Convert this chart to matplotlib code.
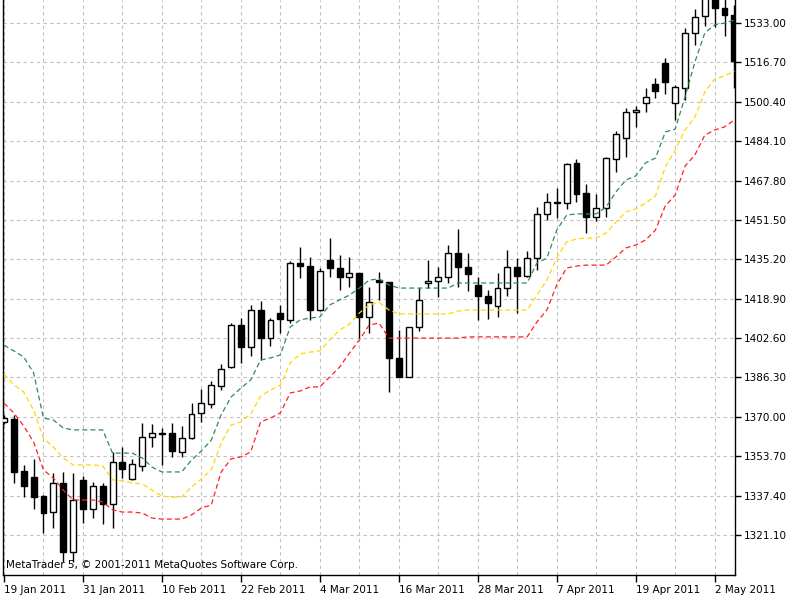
"""
Candles with three trailing bands, MetaTrader style
"""
import numpy as np
import matplotlib
matplotlib.use('Agg')
import matplotlib.pyplot as plt
from matplotlib.ticker import FixedLocator, FormatStrFormatter

# Daily bars, 19 Jan 2011 .. 4 May 2011
OPEN = [1367.9, 1369.1, 1347.6, 1345.1, 1337.2, 1330.6, 1342.6, 1314.1, 1343.9, 1331.9,
        1341.4, 1333.9, 1351.3, 1344.3, 1349.7, 1361.7, 1363.1, 1363.3, 1355.5, 1361.2,
        1371.6, 1375.3, 1382.8, 1390.6, 1408.0, 1398.9, 1414.2, 1402.6, 1413.0, 1410.1,
        1433.7, 1432.4, 1414.2, 1434.9, 1431.6, 1427.9, 1429.5, 1411.3, 1426.6, 1425.8,
        1394.4, 1386.5, 1407.2, 1425.4, 1426.2, 1427.9, 1437.8, 1432.0, 1424.6, 1420.0,
        1415.9, 1423.3, 1432.0, 1428.3, 1435.7, 1454.0, 1458.7, 1458.5, 1475.1, 1462.6,
        1452.7, 1456.4, 1476.7, 1485.4, 1496.2, 1499.9, 1507.8, 1516.5, 1499.9, 1506.1,
        1528.9, 1535.9, 1544.6, 1539.2, 1536.3]
HIGH = [1370.8, 1370.8, 1350.1, 1352.6, 1337.7, 1346.8, 1347.2, 1346.8, 1345.5, 1343.0,
        1342.6, 1355.5, 1357.5, 1352.6, 1367.5, 1367.0, 1365.4, 1367.5, 1366.2, 1375.7,
        1381.5, 1384.8, 1391.9, 1408.8, 1410.9, 1416.3, 1417.9, 1410.9, 1416.3, 1434.5,
        1440.3, 1436.2, 1431.6, 1444.0, 1437.0, 1436.2, 1429.5, 1423.7, 1430.0, 1425.9,
        1405.9, 1407.2, 1423.3, 1434.9, 1432.0, 1441.1, 1447.7, 1437.8, 1427.9, 1422.5,
        1429.5, 1439.1, 1435.7, 1438.6, 1456.9, 1462.6, 1464.7, 1475.1, 1476.7, 1466.4,
        1462.2, 1477.5, 1488.3, 1497.8, 1498.7, 1506.1, 1510.2, 1518.5, 1507.3, 1530.9,
        1538.8, 1546.7, 1546.7, 1543.8, 1540.5]
LOW = [1367.0, 1342.6, 1336.8, 1331.9, 1321.9, 1324.0, 1309.9, 1309.9, 1326.1, 1328.1,
       1325.7, 1324.0, 1344.7, 1343.9, 1347.6, 1357.5, 1350.1, 1353.4, 1353.4, 1360.8,
       1367.9, 1373.7, 1381.1, 1390.2, 1392.3, 1395.2, 1393.5, 1399.3, 1404.7, 1408.8,
       1427.5, 1410.1, 1413.8, 1427.9, 1422.5, 1423.7, 1402.6, 1404.7, 1418.4, 1380.3,
       1386.5, 1386.5, 1405.5, 1423.3, 1419.6, 1425.4, 1423.7, 1422.1, 1410.1, 1410.5,
       1411.3, 1420.0, 1413.0, 1427.9, 1430.8, 1451.5, 1452.3, 1456.0, 1458.9, 1446.1,
       1451.1, 1452.7, 1471.3, 1477.5, 1490.0, 1496.2, 1502.0, 1503.6, 1492.9, 1501.1,
       1523.9, 1531.8, 1531.4, 1527.6, 1506.1]
CLOSE = [1369.5, 1347.2, 1341.4, 1336.8, 1330.2, 1342.6, 1314.1, 1335.6, 1331.9, 1341.4,
         1333.9, 1351.3, 1348.4, 1350.5, 1361.7, 1363.3, 1363.3, 1355.9, 1361.2, 1371.2,
         1375.7, 1383.2, 1389.8, 1408.0, 1398.9, 1414.2, 1402.6, 1410.1, 1410.5, 1433.7,
         1432.4, 1414.2, 1430.4, 1431.6, 1427.9, 1429.5, 1411.3, 1417.5, 1425.8, 1394.4,
         1386.5, 1407.2, 1418.4, 1426.2, 1427.9, 1437.8, 1432.0, 1429.1, 1420.0, 1417.1,
         1423.3, 1432.0, 1428.3, 1435.7, 1454.0, 1458.9, 1458.9, 1474.7, 1462.2, 1452.7,
         1456.4, 1477.1, 1487.1, 1496.2, 1497.0, 1502.4, 1504.9, 1508.6, 1506.5, 1528.9,
         1535.5, 1545.0, 1539.2, 1536.3, 1517.3]

# indicator bands
BAND_GREEN = [1399.7, 1397.3, 1394.8, 1388.2, 1369.5, 1368.7, 1365.4, 1364.6, 1364.6, 1364.6,
              1364.6, 1355.0, 1355.0, 1355.0, 1353.0, 1349.2, 1347.2, 1347.2, 1347.2, 1352.1,
              1355.9, 1360.4, 1370.8, 1378.2, 1381.9, 1385.3, 1393.5, 1394.4, 1395.6, 1407.2,
              1410.1, 1410.9, 1411.3, 1416.3, 1418.4, 1420.4, 1423.3, 1426.6, 1427.1, 1424.6,
              1423.3, 1423.3, 1423.3, 1423.3, 1423.3, 1423.3, 1425.4, 1425.4, 1425.4, 1425.4,
              1425.4, 1425.4, 1425.4, 1425.4, 1433.7, 1435.7, 1447.3, 1453.5, 1454.0, 1454.0,
              1454.0, 1456.8, 1463.1, 1468.0, 1469.7, 1475.1, 1477.1, 1487.9, 1489.1, 1502.4,
              1516.9, 1528.9, 1532.2, 1533.0, 1534.2]
BAND_YELLOW = [1387.7, 1383.2, 1380.3, 1372.8, 1361.2, 1357.5, 1353.0, 1350.1, 1350.1, 1350.1,
               1349.7, 1343.9, 1343.5, 1342.6, 1342.2, 1339.7, 1337.2, 1336.8, 1336.8, 1341.0,
               1344.3, 1348.0, 1359.2, 1366.6, 1367.9, 1371.2, 1378.6, 1381.1, 1383.2, 1392.3,
               1396.0, 1396.8, 1397.3, 1401.8, 1405.9, 1408.4, 1413.0, 1416.3, 1417.5, 1414.2,
               1412.6, 1412.6, 1412.6, 1412.6, 1412.6, 1412.6, 1413.8, 1414.2, 1414.2, 1414.2,
               1414.2, 1414.2, 1414.2, 1414.2, 1420.4, 1426.6, 1435.7, 1442.4, 1443.6, 1444.0,
               1444.0, 1446.1, 1450.6, 1454.8, 1456.0, 1458.5, 1461.4, 1473.4, 1480.4, 1488.7,
               1494.1, 1504.4, 1509.8, 1511.1, 1513.1]
BAND_RED = [1375.7, 1371.6, 1366.2, 1359.6, 1348.0, 1344.7, 1339.7, 1335.6, 1335.6, 1335.6,
            1334.8, 1331.5, 1330.6, 1330.6, 1330.2, 1328.1, 1327.7, 1327.7, 1327.7, 1329.4,
            1332.3, 1333.5, 1347.2, 1352.6, 1353.4, 1355.5, 1367.9, 1369.5, 1371.6, 1379.9,
            1380.7, 1382.4, 1382.4, 1386.5, 1390.6, 1396.4, 1401.8, 1408.0, 1408.8, 1402.6,
            1402.6, 1402.6, 1402.6, 1402.6, 1402.6, 1402.6, 1402.6, 1403.1, 1403.1, 1403.1,
            1403.1, 1403.1, 1403.1, 1403.1, 1409.3, 1414.2, 1424.6, 1431.6, 1432.4, 1432.8,
            1432.8, 1432.8, 1436.2, 1439.9, 1441.1, 1443.2, 1447.3, 1457.3, 1461.8, 1473.8,
            1478.4, 1486.6, 1488.7, 1490.0, 1492.9]

PRICE_TICKS = [1321.10, 1337.40, 1353.70, 1370.00, 1386.30, 1402.60, 1418.90,
               1435.20, 1451.50, 1467.80, 1484.10, 1500.40, 1516.70, 1533.00]
DATE_LABELS = ['19 Jan 2011', '31 Jan 2011', '10 Feb 2011', '22 Feb 2011', '4 Mar 2011',
               '16 Mar 2011', '28 Mar 2011', '7 Apr 2011', '19 Apr 2011', '2 May 2011']
LABEL_EVERY = 8   # bars between date labels
GRID_EVERY = 4    # bars between vertical grid lines

o = np.array(OPEN)
h = np.array(HIGH)
l = np.array(LOW)
c = np.array(CLOSE)
idx = np.arange(len(o))

plt.rcParams['font.family'] = 'DejaVu Sans'
fig = plt.figure(figsize=(8, 6), dpi=100)
ax = fig.add_axes([3 / 800, 25 / 600, 732 / 800, 575 / 600])

# grid first so everything sits on top of it
grid_kw = dict(color='#c0c0c0', linestyle=(0, (3, 3)), linewidth=0.8, zorder=0)
for x in np.arange(0, 75, GRID_EVERY):
    ax.axvline(x, **grid_kw)
for y in PRICE_TICKS:
    ax.axhline(y, **grid_kw)

# candles
ax.vlines(idx, l, h, color='black', linewidth=1.0, zorder=2)
up = c >= o
body_lo = np.minimum(o, c)
body_h = np.maximum(np.abs(c - o), 0.25)
ax.bar(idx[up], body_h[up], bottom=body_lo[up], width=0.6,
       facecolor='white', edgecolor='black', linewidth=1.0, zorder=3)
ax.bar(idx[~up], body_h[~up], bottom=body_lo[~up], width=0.6,
       facecolor='black', edgecolor='black', linewidth=1.0, zorder=3)

# bands
line_kw = dict(linewidth=0.9, dashes=(4, 2.5), zorder=4)
ax.plot(idx, BAND_GREEN, color='#2e8b57', **line_kw)
ax.plot(idx, BAND_YELLOW, color='#ffd700', **line_kw)
ax.plot(idx, BAND_RED, color='#ff2020', **line_kw)

ax.set_xlim(-0.1, 74.06)
ax.set_ylim(1304.55, 1542.52)

# axes look
ax.spines['top'].set_visible(False)
for s in ['left', 'right', 'bottom']:
    ax.spines[s].set_linewidth(1.0)
ax.yaxis.tick_right()
ax.set_yticks(PRICE_TICKS)
ax.yaxis.set_major_formatter(FormatStrFormatter('%.2f'))
ax.tick_params(axis='y', direction='out', length=4, width=1, pad=2, labelsize=7.5)

ax.xaxis.set_major_locator(FixedLocator(np.arange(len(DATE_LABELS)) * LABEL_EVERY))
ax.set_xticklabels(DATE_LABELS, ha='left')
ax.tick_params(axis='x', direction='out', length=5, width=1, pad=2, labelsize=7.5)

ax.text(0.004, 0.012, 'MetaTrader 5, \u00a9 2001-2011 MetaQuotes Software Corp.',
        transform=ax.transAxes, fontsize=7.5, va='baseline', ha='left', zorder=5)

plt.savefig('out.png', dpi=100)
